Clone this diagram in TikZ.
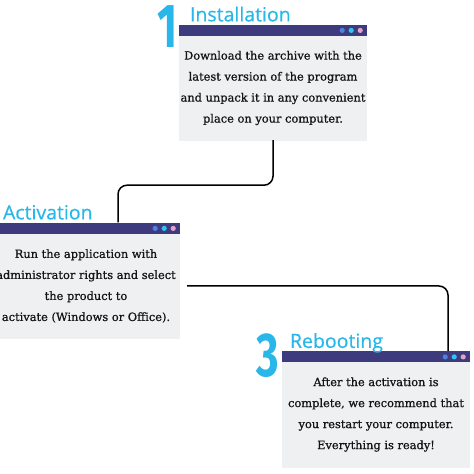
\documentclass[tikz,border=0pt]{standalone}
\usepackage{fontspec}
\setmainfont{DejaVu Serif}
\newfontfamily\bodyfont{DejaVu Serif}[FakeBold=0.8]
\newfontfamily\headfont{Open Sans}[FakeBold=0.4]
\newfontfamily\numfont{Fira Sans}
\usetikzlibrary{calc,positioning,shadows}
\definecolor{stepCyan}{RGB}{41,182,232}
\definecolor{barPurple}{RGB}{62,58,126}
\definecolor{bodyGray}{RGB}{238,240,242}
\definecolor{dotBlue}{RGB}{78,128,224}
\definecolor{dotCyan}{RGB}{46,196,240}
\definecolor{dotPink}{RGB}{226,164,196}

\tikzset{
  win/.style={fill=bodyGray, minimum width=188pt, minimum height=104pt,
    inner sep=0pt, align=center, text=black!92,
    font=\bodyfont\fontsize{11.4}{21}\selectfont,
    drop shadow={opacity=0.12, shadow xshift=0pt, shadow yshift=-1.5pt}},
  winbar/.style={fill=barPurple, minimum width=188pt, minimum height=11pt, inner sep=0pt},
  title/.style={text=stepCyan, font=\headfont\fontsize{19.5}{19.5}\selectfont, inner sep=0pt},
  bignum/.style={text=stepCyan, font=\numfont\bfseries\fontsize{62}{62}\selectfont,
    inner sep=0pt, xscale=0.7},
  link/.style={black, line width=1.5pt, rounded corners=9pt}
}

\begin{document}
\begin{tikzpicture}[x=1pt,y=1pt]
\useasboundingbox (0,0) rectangle (474,474);

% the three windows
\node[win] (box1) at (273,386) {Download the archive with the\\latest version of the program\\and unpack it in any convenient\\place on your computer.};
\node[win] (box2) at (86,188) {Run the application with\\administrator rights and select\\the product to\\activate (Windows or Office).};
\node[win] (box3) at (376,59.5) {After the activation is\\complete, we recommend that\\you restart your computer.\\Everything is ready!};

\foreach \b in {box1,box2,box3}{
  \node[winbar, anchor=south] (\b-bar) at (\b.north) {};
  \fill[dotBlue] ([xshift=-25pt,yshift=-6pt]\b-bar.north east) circle (2.6pt);
  \fill[dotCyan] ([xshift=-16pt,yshift=-6pt]\b-bar.north east) circle (2.6pt);
  \fill[dotPink] ([xshift=-7pt,yshift=-6pt]\b-bar.north east) circle (2.6pt);
}

% step titles
\node[title, anchor=base west] (title1) at ([xshift=11pt,yshift=3pt]box1-bar.north west) {Installation};
\node[title, anchor=base west] (title2) at ([xshift=11pt,yshift=3pt]box2-bar.north west) {Activation};
\node[title, anchor=base west] (title3) at ([xshift=8pt,yshift=3pt]box3-bar.north west) {Rebooting};
\node[bignum, anchor=base east] (num1) at ([xshift=-1pt,yshift=-23pt]box1-bar.north west) {1};
\node[bignum, anchor=base east] (num3) at ([xshift=-3pt,yshift=-26pt]box3-bar.north west) {3};

% connectors
\draw[link] (box1.south) -- ++(0,-45) -| ([xshift=32pt]box2-bar.north);
\draw[link] ([xshift=7pt]box2.east) -| ([xshift=72pt]box3-bar.north);
\end{tikzpicture}
\end{document}
